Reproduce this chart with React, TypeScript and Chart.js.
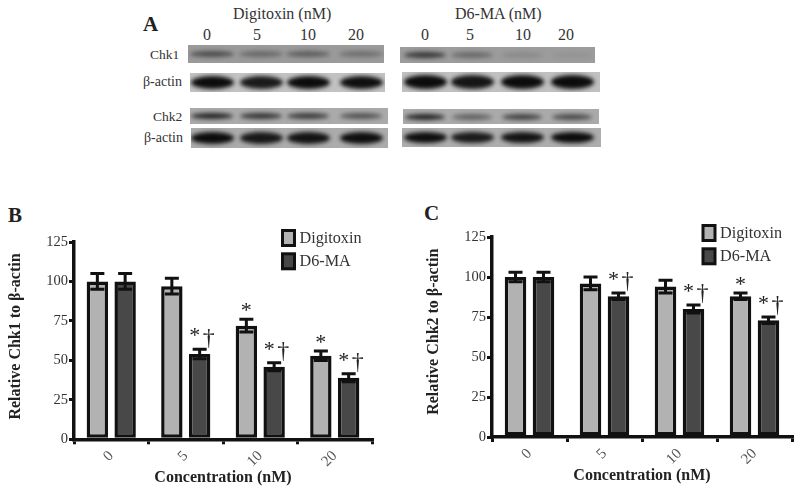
import React, { useEffect, useRef } from "react";
import { Chart, registerables } from "chart.js";

Chart.register(...registerables);

const concentrations = ["0", "5", "10", "20"];
const seriesNames = ["Digitoxin", "D6-MA"];

const chk1Digitoxin = [100, 97, 72, 53];
const chk1D6MA = [100, 54, 46, 39];
const chk1DigitoxinErr = [5, 5, 4, 3];
const chk1D6MAErr = [5, 3, 2.5, 2.5];
const chk1DigitoxinMarks = ["", "", "*", "*"];
const chk1D6MAMarks = ["", "*†", "*†", "*†"];

const chk2Digitoxin = [100, 96, 94, 88];
const chk2D6MA = [100, 88, 80, 73];
const chk2DigitoxinErr = [3, 4, 4, 2];
const chk2D6MAErr = [3, 2, 2.5, 2];
const chk2DigitoxinMarks = ["", "", "", "*"];
const chk2D6MAMarks = ["", "*†", "*†", "*†"];

// Band darkness per lane in the western blot (0..1), read by eye.
const blotChk1Left = [0.55, 0.35, 0.42, 0.3];
const blotActin1Left = [1, 0.92, 1, 0.98];
const blotChk2Left = [0.85, 0.75, 0.7, 0.55];
const blotActin2Left = [1, 0.92, 0.95, 0.98];
const blotChk1Right = [0.7, 0.35, 0.12, 0.05];
const blotActin1Right = [1, 0.95, 1, 1];
const blotChk2Right = [0.85, 0.45, 0.65, 0.6];
const blotActin2Right = [0.98, 0.9, 0.95, 1];

const SERIF = "'Liberation Serif', serif";
const LIGHT = "#b2b2b2";
const DARK = "#484848";
const INK = "#111111";

type PanelProps = {
  left: number; top: number; width: number; height: number;
  pad: { left: number; top: number; right: number; bottom: number };
  title: string; titleX: number; titleY: number;
  a: number[]; b: number[]; aErr: number[]; bErr: number[];
  aMarks: string[]; bMarks: string[];
  legendX: number; legendY: number;
};

const barPanelPlugin = (p: PanelProps) => ({
  id: "barPanel",
  afterDatasetsDraw(chart: any) {
    const ctx = chart.ctx;
    const y = chart.scales.y;
    const errs = [p.aErr, p.bErr];
    const marks = [p.aMarks, p.bMarks];
    const vals = [p.a, p.b];
    ctx.save();
    chart.data.datasets.forEach((_: any, di: number) => {
      chart.getDatasetMeta(di).data.forEach((el: any, i: number) => {
        const hi = y.getPixelForValue(vals[di][i] + errs[di][i]);
        const lo = y.getPixelForValue(vals[di][i] - errs[di][i]);
        ctx.strokeStyle = INK;
        ctx.lineWidth = 3;
        ctx.beginPath();
        ctx.moveTo(el.x, hi);
        ctx.lineTo(el.x, lo);
        ctx.moveTo(el.x - 7, hi);
        ctx.lineTo(el.x + 7, hi);
        ctx.moveTo(el.x - 7, lo);
        ctx.lineTo(el.x + 7, lo);
        ctx.stroke();
        const m = marks[di][i];
        if (m) {
          ctx.fillStyle = "#222";
          ctx.textAlign = "center";
          ctx.textBaseline = "middle";
          if (m === "*") {
            ctx.font = `22px ${SERIF}`;
            ctx.fillText("*", el.x, hi - 8);
          } else {
            ctx.font = `22px ${SERIF}`;
            ctx.fillText("*", el.x - 5, hi - 13);
            ctx.font = `24px ${SERIF}`;
            ctx.fillText("†", el.x + 9, hi - 11);
          }
        }
      });
    });
    // Legend
    ctx.font = `16.2px ${SERIF}`;
    ctx.textAlign = "left";
    ctx.textBaseline = "middle";
    chart.data.datasets.forEach((ds: any, di: number) => {
      const ly = p.legendY + di * 23.3;
      ctx.fillStyle = ds.backgroundColor;
      ctx.strokeStyle = INK;
      ctx.lineWidth = 3;
      ctx.fillRect(p.legendX, ly, 12, 15);
      ctx.strokeRect(p.legendX, ly, 12, 15);
      ctx.fillStyle = "#333";
      ctx.fillText(ds.label, p.legendX + 17, ly + 8);
    });
    // Y axis title
    ctx.translate(p.titleX, p.titleY);
    ctx.rotate(-Math.PI / 2);
    ctx.textAlign = "center";
    ctx.textBaseline = "middle";
    ctx.font = `bold 16px ${SERIF}`;
    ctx.fillStyle = "#222";
    ctx.fillText(p.title, 0, 0);
    ctx.restore();
  },
});

function BarPanel(p: PanelProps) {
  const ref = useRef<HTMLCanvasElement>(null);
  useEffect(() => {
    const chart = new Chart(ref.current as HTMLCanvasElement, {
      type: "bar",
      data: {
        labels: concentrations,
        datasets: [
          { label: seriesNames[0], data: p.a, backgroundColor: LIGHT, borderColor: INK, borderWidth: 3.5, borderSkipped: false },
          { label: seriesNames[1], data: p.b, backgroundColor: DARK, borderColor: INK, borderWidth: 3.5, borderSkipped: false },
        ],
      } as any,
      options: {
        animation: false,
        responsive: false,
        layout: { padding: p.pad },
        datasets: { bar: { categoryPercentage: 0.746, barPercentage: 0.77 } },
        plugins: { legend: { display: false }, tooltip: { enabled: false } },
        scales: {
          x: {
            grid: { drawOnChartArea: false, color: INK, lineWidth: 3, tickLength: 5 },
            border: { color: INK, width: 3.5 },
            ticks: { color: "#555", font: { family: SERIF, size: 15 }, minRotation: 45, maxRotation: 45, padding: 3 },
            title: { display: true, text: "Concentration (nM)", color: "#222", font: { family: SERIF, size: 16, weight: "bold" }, padding: { top: 4, bottom: 0 } },
            afterFit(s: any) { s.height = 48; },
          },
          y: {
            min: 0,
            max: 125,
            grid: { drawOnChartArea: false, color: INK, lineWidth: 3, tickLength: 5 },
            border: { color: INK, width: 3.5 },
            ticks: { stepSize: 25, color: "#333", font: { family: SERIF, size: 14.5 }, padding: 1 },
            afterFit(s: any) { s.width = 66; },
          },
        },
      } as any,
      plugins: [barPanelPlugin(p)],
    });
    return () => chart.destroy();
  }, []);
  return (
    <canvas
      ref={ref}
      width={p.width}
      height={p.height}
      style={{ position: "absolute", left: p.left, top: p.top, width: p.width, height: p.height, filter: "blur(0.45px)" }}
    />
  );
}

function Blot({ x, y, w, h, bg, lanes, values, laneW, bandH }: any) {
  return (
    <div style={{ position: "absolute", left: x, top: y, width: w, height: h, background: bg, overflow: "hidden" }}>
      {values.map((v: number, i: number) => (
        <div
          key={i}
          style={{
            position: "absolute",
            left: lanes[i] - x - laneW / 2,
            top: (h - bandH) / 2,
            width: laneW,
            height: bandH,
            borderRadius: "50%",
            background: "#0c0c0c",
            opacity: v,
            filter: "blur(2px)",
          }}
        />
      ))}
    </div>
  );
}

function Txt({ x, y, size = 15, bold = false, color = "#333", children }: any) {
  return (
    <div style={{ position: "absolute", left: x, top: y, fontFamily: SERIF, fontSize: size, fontWeight: bold ? 700 : 400, color, lineHeight: 1, whiteSpace: "nowrap" }}>
      {children}
    </div>
  );
}

const lanesLeft = [212, 261, 308, 361];
const lanesRight = [425, 472, 522, 572];
const labelsLeft = [207, 257, 308, 356];
const labelsRight = [425, 470, 523, 566];

export default function App() {
  return (
    <div style={{ position: "fixed", left: 0, top: 0, width: 800, height: 488, background: "#fff", overflow: "hidden" }}>
      <Txt x={143} y={14} size={21} bold color="#222">A</Txt>
      <Txt x={233} y={6} size={16}>Digitoxin (nM)</Txt>
      <Txt x={455} y={6} size={16}>D6-MA (nM)</Txt>
      {concentrations.map((c, i) => <Txt key={"l" + i} x={labelsLeft[i] - (c.length * 4)} y={26.5} size={16}>{c}</Txt>)}
      {concentrations.map((c, i) => <Txt key={"r" + i} x={labelsRight[i] - (c.length * 4)} y={26.5} size={16}>{c}</Txt>)}
      <Txt x={150} y={48} size={13.5}>Chk1</Txt>
      <Txt x={143} y={75} size={14}>β-actin</Txt>
      <Txt x={153} y={110} size={13.5}>Chk2</Txt>
      <Txt x={144} y={131} size={14}>β-actin</Txt>

      <Blot x={188} y={45} w={196} h={18} bg="#9a9a9a" lanes={lanesLeft} values={blotChk1Left} laneW={44} bandH={6} />
      <Blot x={190} y={73} w={195} h={19} bg="#c2c2c2" lanes={lanesLeft} values={blotActin1Left} laneW={43} bandH={13} />
      <Blot x={190} y={108} w={198} h={16} bg="#aaaaaa" lanes={lanesLeft} values={blotChk2Left} laneW={42} bandH={6} />
      <Blot x={191} y={128} w={197} h={20} bg="#ababab" lanes={lanesLeft} values={blotActin2Left} laneW={43} bandH={12} />
      <Blot x={400} y={47} w={195} h={16} bg="#9c9c9c" lanes={lanesRight} values={blotChk1Right} laneW={42} bandH={6} />
      <Blot x={402} y={72} w={198} h={20} bg="#c0c0c0" lanes={lanesRight} values={blotActin1Right} laneW={43} bandH={14} />
      <Blot x={403} y={109} w={196} h={15} bg="#aaaaaa" lanes={lanesRight} values={blotChk2Right} laneW={40} bandH={6} />
      <Blot x={402} y={128} w={199} h={19} bg="#adadad" lanes={lanesRight} values={blotActin2Right} laneW={43} bandH={11} />

      <Txt x={8} y={204.5} size={21} bold color="#222">B</Txt>
      <Txt x={424} y={203} size={21} bold color="#222">C</Txt>

      <BarPanel
        left={0} top={190} width={400} height={298}
        pad={{ left: 8, top: 52, right: 28, bottom: 0.7 }}
        title="Relative Chk1 to β-actin" titleX={16} titleY={146.5}
        a={chk1Digitoxin} b={chk1D6MA} aErr={chk1DigitoxinErr} bErr={chk1D6MAErr}
        aMarks={chk1DigitoxinMarks} bMarks={chk1D6MAMarks}
        legendX={282.5} legendY={40.5}
      />
      <BarPanel
        left={400} top={190} width={400} height={298}
        pad={{ left: 26, top: 47, right: 8, bottom: 3 }}
        title="Relative Chk2 to β-actin" titleX={34} titleY={141.7}
        a={chk2Digitoxin} b={chk2D6MA} aErr={chk2DigitoxinErr} bErr={chk2D6MAErr}
        aMarks={chk2DigitoxinMarks} bMarks={chk2D6MAMarks}
        legendX={303} legendY={35.5}
      />
    </div>
  );
}
